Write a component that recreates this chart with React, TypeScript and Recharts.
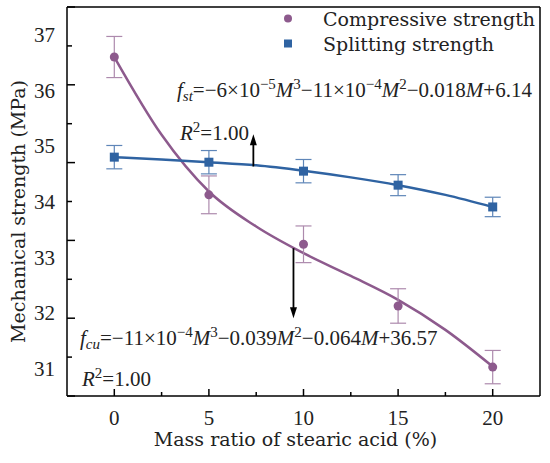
import React from 'react';
import {
  ComposedChart,
  Line,
  Scatter,
  XAxis,
  YAxis,
  ErrorBar,
  Legend,
  ReferenceLine,
} from 'recharts';

// measured points (x = mass ratio of stearic acid, %)
const massRatio = [0, 5, 10, 15, 20];
const compressive = [36.6, 34.12, 33.23, 32.12, 31.02];
const compressiveErr = [0.37, 0.34, 0.33, 0.31, 0.3];
const splitting = [6.14, 6.01, 5.78, 5.42, 4.86];
const splittingErr = [0.3, 0.3, 0.3, 0.27, 0.25];

// fitted curves
const fitRatio = [0, 2.5, 5, 7.5, 10, 12.5, 15, 17.5, 20];
const compressiveFit = [36.6, 35.2, 34.18, 33.55, 33.07, 32.66, 32.23, 31.69, 31.03];
const splittingFit = [6.14, 6.08, 6.01, 5.93, 5.79, 5.62, 5.42, 5.17, 4.86];

const xTicks = [0, 2.5, 5, 7.5, 10, 12.5, 15, 17.5, 20];
const cuTicks = [31, 32, 33, 34, 35, 36, 37];
const stTicks = [0, 1, 2, 3, 4, 5, 6, 7, 8, 9, 10];

const seriesNames = ['Compressive strength', 'Splitting strength'];

const PURPLE = '#8d5a8d';
const PURPLE_ERR = '#ad8aad';
const BLUE = '#2f63a2';
const BLUE_ERR = '#5f86b8';
const WORD_FONT = '"DejaVu Serif", serif';
const NUM_FONT = '"Liberation Serif", serif';

const fitRows = fitRatio.map((m, i) => ({ m, cu: compressiveFit[i], st: splittingFit[i] }));
const cuPoints = massRatio.map((m, i) => ({ m, v: compressive[i], e: compressiveErr[i] }));
const stPoints = massRatio.map((m, i) => ({ m, v: splitting[i], e: splittingErr[i] }));

const XTick = ({ x, y, payload }: any) => {
  const major = payload.value % 5 === 0;
  return (
    <g>
      <line x1={x} x2={x} y1={y} y2={y - (major ? 7 : 4)} stroke="#000" strokeWidth={1.5} />
      {major && (
        <text x={x} y={y + 29} textAnchor="middle" fontFamily={NUM_FONT} fontSize={21} fill="#222">
          {payload.value}
        </text>
      )}
    </g>
  );
};

const YTick = ({ x, y, payload }: any) => {
  const major = payload.value % 2 === 0;
  return <line x1={x} x2={x + (major ? 8 : 5)} y1={y} y2={y} stroke="#000" strokeWidth={1.5} />;
};

const Arrow = (p: any) => {
  const { x1, y1, x2, y2 } = p;
  const dir = y2 < y1 ? -1 : 1;
  return (
    <g>
      <line x1={x1} y1={y1} x2={x2} y2={y2 - dir * 8} stroke="#000" strokeWidth={1.8} />
      <polygon points={`${x2},${y2} ${x2 - 3.5},${y2 - dir * 11} ${x2 + 3.5},${y2 - dir * 11}`} fill="#000" />
    </g>
  );
};

const LegendBox = () => (
  <div style={{ fontFamily: WORD_FONT, fontSize: 19, color: '#222' }}>
    {seriesNames.map((name, i) => (
      <div key={name} style={{ display: 'flex', alignItems: 'center', height: 25 }}>
        <svg width={43} height={25}>
          {i === 0 ? (
            <circle cx={8} cy={12.5} r={4} fill={PURPLE} />
          ) : (
            <rect x={4} y={8.5} width={8} height={8} fill={BLUE} />
          )}
        </svg>
        <span>{name}</span>
      </div>
    ))}
  </div>
);

const sup = { fontSize: 15 };

const App = () => {
  return (
    <div style={{ position: 'absolute', left: 0, top: 0 }}>
      <ComposedChart
        width={550}
        height={463}
        data={fitRows}
        margin={{ top: 7, right: 10, bottom: 27, left: 0 }}
      >
        <XAxis
          dataKey="m"
          type="number"
          domain={[-2.5, 22.5]}
          ticks={xTicks}
          interval={0}
          allowDataOverflow
          tickSize={0}
          tickMargin={0}
          tickLine={false}
          tick={<XTick />}
          height={40}
          axisLine={{ stroke: '#000', strokeWidth: 1.5 }}
          label={{
            value: 'Mass ratio of stearic acid (%)',
            position: 'insideBottom',
            offset: -10,
            dx: -8,
            style: { fontFamily: WORD_FONT, fontSize: 19, fill: '#222' },
          }}
        />
        <XAxis
          xAxisId="top"
          orientation="top"
          type="number"
          domain={[-2.5, 22.5]}
          mirror
          tick={false}
          tickLine={false}
          axisLine={{ stroke: '#000', strokeWidth: 1.5 }}
        />
        <YAxis
          yAxisId="cu"
          type="number"
          domain={[30.5, 37.5]}
          ticks={cuTicks}
          interval={0}
          allowDataOverflow
          width={67}
          tickSize={0}
          tickMargin={12}
          tickLine={false}
          axisLine={false}
          tick={{ fontFamily: NUM_FONT, fontSize: 21, fill: '#222' }}
          label={{
            value: 'Mechanical strength (MPa)',
            angle: -90,
            position: 'insideLeft',
            offset: 18,
            dy: 10,
            style: { textAnchor: 'middle', fontFamily: WORD_FONT, fontSize: 19, fill: '#222' },
          }}
        />
        <YAxis
          yAxisId="st"
          type="number"
          domain={[0, 10]}
          ticks={stTicks}
          interval={0}
          mirror
          tickSize={0}
          tickMargin={0}
          tickLine={false}
          tick={<YTick />}
          axisLine={{ stroke: '#000', strokeWidth: 1.5 }}
        />
        <YAxis
          yAxisId="right"
          orientation="right"
          type="number"
          domain={[0, 10]}
          mirror
          tick={false}
          tickLine={false}
          axisLine={{ stroke: '#000', strokeWidth: 1.5 }}
        />

        <Line
          yAxisId="cu"
          dataKey="cu"
          type="monotone"
          stroke={PURPLE}
          strokeWidth={2.5}
          dot={false}
          legendType="none"
          isAnimationActive={false}
        />
        <Line
          yAxisId="st"
          dataKey="st"
          type="monotone"
          stroke={BLUE}
          strokeWidth={2.5}
          dot={false}
          legendType="none"
          isAnimationActive={false}
        />
        <Scatter
          yAxisId="cu"
          name={seriesNames[0]}
          data={cuPoints}
          dataKey="v"
          fill={PURPLE}
          shape={(p: any) => <circle cx={p.cx} cy={p.cy} r={4.5} fill={PURPLE} />}
          isAnimationActive={false}
        >
          <ErrorBar dataKey="e" direction="y" width={8} stroke={PURPLE_ERR} strokeWidth={1.2} />
        </Scatter>
        <Scatter
          yAxisId="st"
          name={seriesNames[1]}
          data={stPoints}
          dataKey="v"
          fill={BLUE}
          shape={(p: any) => <rect x={p.cx - 4.5} y={p.cy - 4.5} width={9} height={9} fill={BLUE} />}
          isAnimationActive={false}
        >
          <ErrorBar dataKey="e" direction="y" width={8} stroke={BLUE_ERR} strokeWidth={1.2} />
        </Scatter>

        <ReferenceLine
          yAxisId="st"
          segment={[{ x: 7.35, y: 5.9 }, { x: 7.35, y: 6.73 }]}
          shape={<Arrow />}
        />
        <ReferenceLine
          yAxisId="cu"
          segment={[{ x: 9.47, y: 33.16 }, { x: 9.47, y: 31.9 }]}
          shape={<Arrow />}
        />

        <Legend
          layout="horizontal"
          verticalAlign="middle"
          align="center"
          wrapperStyle={{ left: 280, top: 6, width: 265 }}
          content={() => <LegendBox />}
        />

        <g fontFamily={NUM_FONT} fontSize={21} fill="#222">
          <text x={177} y={97}>
            <tspan fontStyle="italic">f</tspan>
            <tspan {...sup} fontStyle="italic" dy={4}>st</tspan>
            <tspan dy={-4}>=−6×10</tspan>
            <tspan {...sup} dy={-8}>−5</tspan>
            <tspan dy={8} fontStyle="italic">M</tspan>
            <tspan {...sup} dy={-8}>3</tspan>
            <tspan dy={8}>−11×10</tspan>
            <tspan {...sup} dy={-8}>−4</tspan>
            <tspan dy={8} fontStyle="italic">M</tspan>
            <tspan {...sup} dy={-8}>2</tspan>
            <tspan dy={8}>−0.018</tspan>
            <tspan fontStyle="italic">M</tspan>
            <tspan>+6.14</tspan>
          </text>
          <text x={180} y={140}>
            <tspan fontStyle="italic">R</tspan>
            <tspan {...sup} dy={-8}>2</tspan>
            <tspan dy={8}>=1.00</tspan>
          </text>
          <text x={80} y={345}>
            <tspan fontStyle="italic">f</tspan>
            <tspan {...sup} fontStyle="italic" dy={4}>cu</tspan>
            <tspan dy={-4}>=−11×10</tspan>
            <tspan {...sup} dy={-8}>−4</tspan>
            <tspan dy={8} fontStyle="italic">M</tspan>
            <tspan {...sup} dy={-8}>3</tspan>
            <tspan dy={8}>−0.039</tspan>
            <tspan fontStyle="italic">M</tspan>
            <tspan {...sup} dy={-8}>2</tspan>
            <tspan dy={8}>−0.064</tspan>
            <tspan fontStyle="italic">M</tspan>
            <tspan>+36.57</tspan>
          </text>
          <text x={82} y={386}>
            <tspan fontStyle="italic">R</tspan>
            <tspan {...sup} dy={-8}>2</tspan>
            <tspan dy={8}>=1.00</tspan>
          </text>
        </g>
      </ComposedChart>
    </div>
  );
};

export default App;
